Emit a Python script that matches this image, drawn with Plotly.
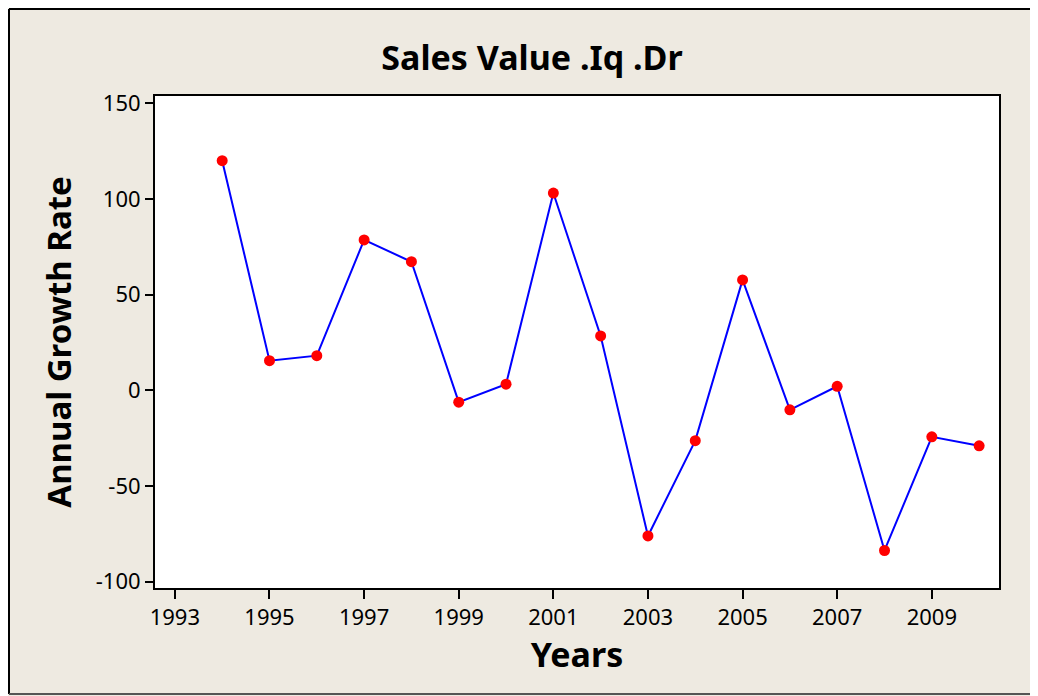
import plotly.graph_objects as go

years = [1994, 1995, 1996, 1997, 1998, 1999, 2000, 2001, 2002,
         2003, 2004, 2005, 2006, 2007, 2008, 2009, 2010]
growth = [120.0, 15.5, 18.1, 78.6, 67.2, -6.2, 3.2, 103.1, 28.4,
          -76.1, -26.3, 57.7, -10.2, 2.1, -83.7, -24.3, -29.0]

x_ticks = [1993, 1995, 1997, 1999, 2001, 2003, 2005, 2007, 2009]
y_ticks = [-100, -50, 0, 50, 100, 150]
y_labels = ["-100", "-50", "0", "50", "100", "150"]

fuente = "Noto Sans"

fig = go.Figure()
fig.add_trace(go.Scatter(
    x=years,
    y=growth,
    mode="lines+markers",
    line=dict(color="#0000FF", width=2),
    marker=dict(color="#FF0000", size=11),
    showlegend=False
))

# marco exterior: solo arriba, izquierda y abajo
x_izq = (1 - 147) / 844
x_der = (1300 - 147) / 844
y_arr = (580 - 1) / 492
y_aba = (580 - 686) / 492
marco = [
    dict(type="line", xref="paper", yref="paper", x0=x_izq, x1=x_der, y0=y_arr, y1=y_arr,
         line=dict(color="black", width=2)),
    dict(type="line", xref="paper", yref="paper", x0=x_izq, x1=x_izq, y0=y_aba, y1=y_arr,
         line=dict(color="black", width=2)),
    dict(type="line", xref="paper", yref="paper", x0=x_izq, x1=x_der, y0=y_aba, y1=y_aba,
         line=dict(color="#555555", width=2)),
]

# la pagina deja 8px de margen arriba y a la izquierda
fig.update_layout(
    width=1038,
    height=696,
    margin=dict(l=147, r=47, t=88, b=116),
    paper_bgcolor="#EEEAE1",
    plot_bgcolor="white",
    font=dict(family=fuente, color="black", size=22),
    title=dict(
        text="<b>Sales Value .Iq .Dr</b>",
        x=524 / 1038,
        xanchor="center",
        y=1 - 50 / 696,
        yanchor="middle",
        font=dict(size=34, family=fuente)
    ),
    xaxis=dict(
        range=[1992.58, 2010.42],
        tickmode="array",
        tickvals=x_ticks,
        ticks="outside",
        ticklen=9,
        tickwidth=1.5,
        tickcolor="black",
        showline=True,
        linecolor="black",
        linewidth=2,
        mirror=True,
        showgrid=False,
        zeroline=False,
        title=dict(text="<b>Years</b>", font=dict(size=34), standoff=10)
    ),
    yaxis=dict(
        range=[-103.3, 153.8],
        tickmode="array",
        tickvals=y_ticks,
        ticktext=y_labels,
        ticks="outside",
        ticklen=8,
        tickwidth=1.5,
        tickcolor="black",
        showline=True,
        linecolor="black",
        linewidth=2,
        mirror=True,
        showgrid=False,
        zeroline=False,
        title=dict(text="<b>Annual Growth Rate</b>", font=dict(size=33), standoff=14)
    ),
    shapes=marco
)

fig.write_html("out.html")
